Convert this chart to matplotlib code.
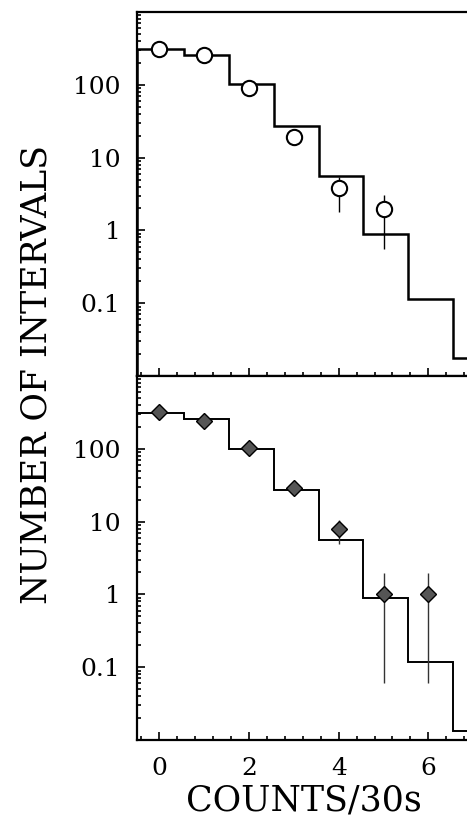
import numpy as np
import matplotlib
matplotlib.use("Agg")
import matplotlib.pyplot as plt
from matplotlib.ticker import FixedLocator, LogLocator, MultipleLocator, NullFormatter

# counts per 30 s bin
counts = [0, 1, 2, 3, 4, 5, 6]

# expected numbers (step model), bins 0..7
model_top = [311, 257, 103, 27.4, 5.6, 0.88, 0.113, 0.0177]
model_bot = [311, 258, 100, 27.4, 5.6, 0.88, 0.117, 0.0133]

# observed: upper panel (open circles), error bar ends as absolute values
obs_top = [315, 257, 91, 19.4, 3.8, 1.95]
top_hi = [315, 257, 91, 19.4, 5.5, 3.1]
top_lo = [315, 257, 91, 19.4, 1.8, 0.55]

# observed: lower panel (diamonds)
obs_bot = [321, 242, 103, 29, 7.8, 1.0, 1.0]
bot_hi = [321, 242, 103, 29, 10.6, 1.94, 1.94]
bot_lo = [321, 242, 103, 29, 5.0, 0.06, 0.06]

edges = [-0.5] + [k + 0.55 for k in range(8)]

plt.rcParams['font.family'] = 'DejaVu Serif'

W, H = 467, 823
fig = plt.figure(figsize=(W / 100, H / 100), dpi=100)
left, width = 137 / W, 381 / W
ax1 = fig.add_axes([left, (H - 376) / H, width, 364 / H])
ax2 = fig.add_axes([left, (H - 740) / H, width, 364 / H])


def style(ax, showx):
    ax.set_yscale('log')
    ax.set_ylim(0.01, 1000)
    ax.set_xlim(-0.5, 8)
    ax.yaxis.set_major_locator(FixedLocator([0.1, 1, 10, 100]))
    ax.yaxis.set_minor_locator(LogLocator(base=10, subs=np.arange(2, 10)))
    ax.yaxis.set_minor_formatter(NullFormatter())
    ax.set_yticklabels(['0.1', '1', '10', '100'])
    ax.xaxis.set_major_locator(MultipleLocator(2))
    ax.xaxis.set_minor_locator(MultipleLocator(0.4))
    ax.tick_params(which='both', direction='in', top=False, right=False, width=1.2)
    ax.tick_params(which='major', length=6, labelsize=18, pad=12)
    ax.tick_params(which='minor', length=3)
    if not showx:
        ax.tick_params(axis='x', labelbottom=False)
    for s in ax.spines.values():
        s.set_linewidth(1.6)
    ax.spines['right'].set_visible(False)


def yerr(obs, lo, hi):
    obs, lo, hi = map(np.asarray, (obs, lo, hi))
    return [obs - lo, hi - obs]


style(ax1, False)
style(ax2, True)

# upper panel
ax1.stairs(model_top, edges, color='black', lw=1.8)
ax1.errorbar(counts[:len(obs_top)], obs_top, yerr=yerr(obs_top, top_lo, top_hi),
             fmt='o', ms=11, mfc='white', mec='black', mew=1.5,
             ecolor='black', elinewidth=1.0, capsize=0, zorder=3)

# lower panel
ax2.stairs(model_bot, edges, color='black', lw=1.4)
ax2.errorbar(counts, obs_bot, yerr=yerr(obs_bot, bot_lo, bot_hi),
             fmt='D', ms=8, mfc='#555555', mec='black', mew=1.0,
             ecolor='#333333', elinewidth=1.0, capsize=0, zorder=3)

ax2.set_xticks([0, 2, 4, 6])
ax2.set_xticklabels(['0', '2', '4', '6'])

fig.text(304 / W, (H - 800) / H, 'COUNTS/30s', fontsize=25, ha='center', va='center')
fig.text(37 / W, (H - 375) / H, 'NUMBER OF INTERVALS', fontsize=25,
         rotation=90, ha='center', va='center')

fig.savefig('out.png', dpi=100)
